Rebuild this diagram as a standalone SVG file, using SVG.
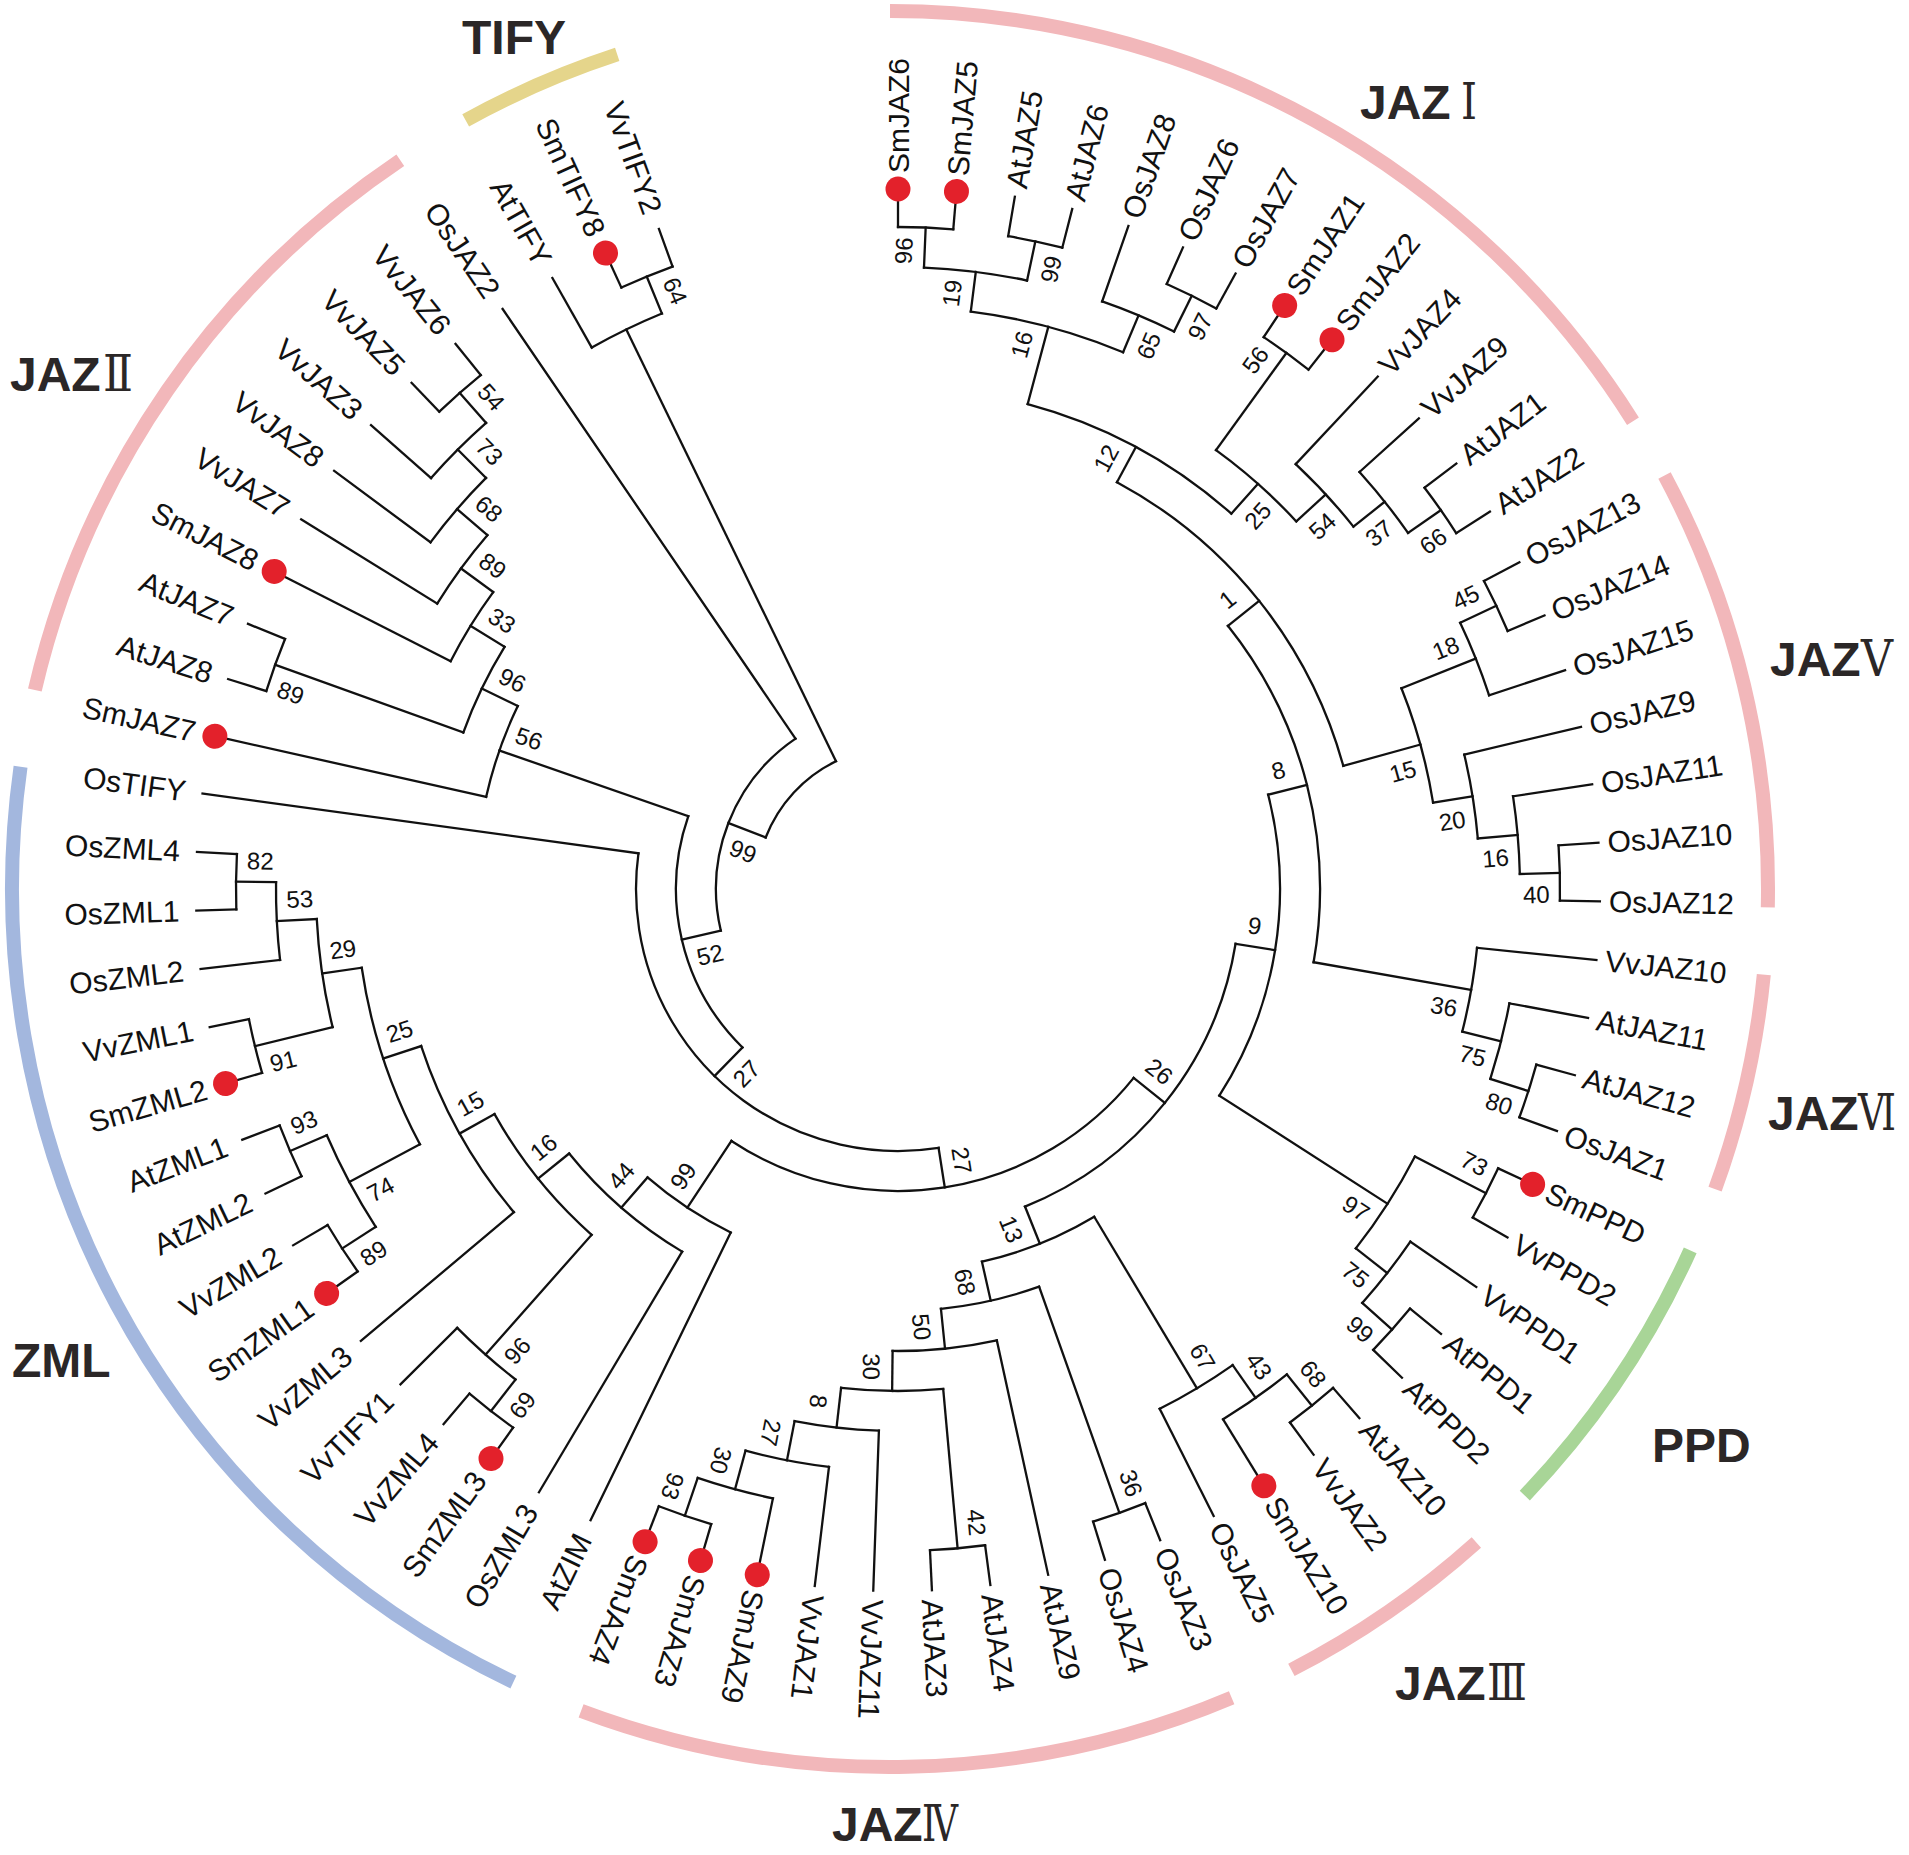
<svg xmlns="http://www.w3.org/2000/svg" width="1909" height="1855" viewBox="0 0 1909 1855">
<style>
.br{stroke:#111;stroke-width:2.3;fill:none;stroke-linecap:square}
.lf{font-family:'Liberation Sans',Arial,sans-serif;font-size:30px;fill:#111}
.le{text-anchor:end}
.bs{font-family:'Liberation Sans',Arial,sans-serif;font-size:24px;fill:#111;text-anchor:middle}
.dot{fill:#e3212b}
.ring{fill:none;stroke-width:14}
.pink{stroke:#f2b7ba}
.blue{stroke:#a3b7de}
.green{stroke:#a8d597}
.yellow{stroke:#e5d58b}
.grp{font-family:'Liberation Sans',Arial,sans-serif;font-weight:bold;font-size:48px;fill:#2b2727}
.num{font-family:'DejaVu Serif','Liberation Serif','Noto Sans CJK SC',serif;font-weight:normal;font-size:50px}
</style>
<rect width="1909" height="1855" fill="#fff"/>

<g id="clades">
<g id="clade-JAZ1"><circle class="ring pink" r="878" pathLength="360" stroke-dasharray="57.8 360" transform="translate(890 889) rotate(-90)"/><text class="grp" x="1360" y="119">JAZ<tspan class="num" x="1461" textLength="16" lengthAdjust="spacingAndGlyphs">Ⅰ</tspan></text></g>
<g id="clade-JAZ5"><circle class="ring pink" r="878" pathLength="360" stroke-dasharray="29.3 360" transform="translate(890 889) rotate(-28.1)"/><text class="grp" x="1770" y="676">JAZ<tspan class="num" x="1861" textLength="32" lengthAdjust="spacingAndGlyphs">Ⅴ</tspan></text></g>
<g id="clade-JAZ6"><circle class="ring pink" r="878" pathLength="360" stroke-dasharray="14.4 360" transform="translate(890 889) rotate(5.6)"/><text class="grp" x="1768" y="1130">JAZ<tspan class="num" x="1858" textLength="38" lengthAdjust="spacingAndGlyphs">Ⅵ</tspan></text></g>
<g id="clade-PPD"><circle class="ring green" r="878" pathLength="360" stroke-dasharray="19.4 360" transform="translate(890 889) rotate(24.3)"/><text class="grp" x="1652" y="1462">PPD</text></g>
<g id="clade-JAZ3"><circle class="ring pink" r="878" pathLength="360" stroke-dasharray="14.7 360" transform="translate(890 889) rotate(48.1)"/><text class="grp" x="1395" y="1700">JAZ<tspan class="num" x="1487" textLength="40" lengthAdjust="spacingAndGlyphs">Ⅲ</tspan></text></g>
<g id="clade-JAZ4"><circle class="ring pink" r="878" pathLength="360" stroke-dasharray="43.5 360" transform="translate(890 889) rotate(67.1)"/><text class="grp" x="832" y="1841">JAZ<tspan class="num" x="922" textLength="36" lengthAdjust="spacingAndGlyphs">Ⅳ</tspan></text></g>
<g id="clade-ZML"><circle class="ring blue" r="878" pathLength="360" stroke-dasharray="72.6 360" transform="translate(890 889) rotate(115.4)"/><text class="grp" x="12" y="1377">ZML</text></g>
<g id="clade-JAZ2"><circle class="ring pink" r="878" pathLength="360" stroke-dasharray="43 360" transform="translate(890 889) rotate(193.1)"/><text class="grp" x="10" y="391">JAZ<tspan class="num" x="103" textLength="30" lengthAdjust="spacingAndGlyphs">Ⅱ</tspan></text></g>
<g id="clade-TIFY"><circle class="ring yellow" r="878" pathLength="360" stroke-dasharray="10.8 360" transform="translate(890 889) rotate(241.1)"/><text class="grp" x="462" y="54">TIFY</text></g>
</g>

<g id="connectors" class="br" transform="translate(898 889)">
<line x1="662" x2="702" transform="rotate(-90)"/>
<line x1="662" x2="702" transform="rotate(-85.21)"/>
<line x1="662" x2="702" transform="rotate(-80.42)"/>
<line x1="662" x2="702" transform="rotate(-75.63)"/>
<line x1="622" x2="702" transform="rotate(-70.84)"/>
<line x1="662" x2="702" transform="rotate(-66.05)"/>
<line x1="662" x2="702" transform="rotate(-61.26)"/>
<line x1="662" x2="702" transform="rotate(-56.47)"/>
<line x1="662" x2="702" transform="rotate(-51.68)"/>
<line x1="582" x2="702" transform="rotate(-46.89)"/>
<line x1="622" x2="702" transform="rotate(-42.1)"/>
<line x1="662" x2="702" transform="rotate(-37.31)"/>
<line x1="662" x2="702" transform="rotate(-32.52)"/>
<line x1="662" x2="702" transform="rotate(-27.73)"/>
<line x1="662" x2="702" transform="rotate(-22.94)"/>
<line x1="622" x2="702" transform="rotate(-18.15)"/>
<line x1="582" x2="702" transform="rotate(-13.36)"/>
<line x1="622" x2="702" transform="rotate(-8.57)"/>
<line x1="662" x2="702" transform="rotate(-3.78)"/>
<line x1="662" x2="702" transform="rotate(1.01)"/>
<line x1="582" x2="702" transform="rotate(5.8)"/>
<line x1="622" x2="702" transform="rotate(10.59)"/>
<line x1="662" x2="702" transform="rotate(15.38)"/>
<line x1="662" x2="702" transform="rotate(20.17)"/>
<line x1="662" x2="702" transform="rotate(24.96)"/>
<line x1="662" x2="702" transform="rotate(29.75)"/>
<line x1="622" x2="702" transform="rotate(34.54)"/>
<line x1="662" x2="702" transform="rotate(39.33)"/>
<line x1="662" x2="702" transform="rotate(44.12)"/>
<line x1="662" x2="702" transform="rotate(48.91)"/>
<line x1="662" x2="702" transform="rotate(53.7)"/>
<line x1="622" x2="702" transform="rotate(58.49)"/>
<line x1="582" x2="702" transform="rotate(63.28)"/>
<line x1="662" x2="702" transform="rotate(68.07)"/>
<line x1="662" x2="702" transform="rotate(72.86)"/>
<line x1="462" x2="702" transform="rotate(77.65)"/>
<line x1="662" x2="702" transform="rotate(82.44)"/>
<line x1="662" x2="702" transform="rotate(87.23)"/>
<line x1="542" x2="702" transform="rotate(92.02)"/>
<line x1="582" x2="702" transform="rotate(96.81)"/>
<line x1="622" x2="702" transform="rotate(101.6)"/>
<line x1="662" x2="702" transform="rotate(106.39)"/>
<line x1="662" x2="702" transform="rotate(111.18)"/>
<line x1="382" x2="702" transform="rotate(115.97)"/>
<line x1="422" x2="702" transform="rotate(120.76)"/>
<line x1="662" x2="702" transform="rotate(125.55)"/>
<line x1="662" x2="702" transform="rotate(130.34)"/>
<line x1="622" x2="702" transform="rotate(135.13)"/>
<line x1="502" x2="702" transform="rotate(139.92)"/>
<line x1="662" x2="702" transform="rotate(144.71)"/>
<line x1="662" x2="702" transform="rotate(149.5)"/>
<line x1="662" x2="702" transform="rotate(154.29)"/>
<line x1="662" x2="702" transform="rotate(159.08)"/>
<line x1="662" x2="702" transform="rotate(163.87)"/>
<line x1="662" x2="702" transform="rotate(168.66)"/>
<line x1="622" x2="702" transform="rotate(173.45)"/>
<line x1="662" x2="702" transform="rotate(178.24)"/>
<line x1="662" x2="702" transform="rotate(183.03)"/>
<line x1="262" x2="702" transform="rotate(187.82)"/>
<line x1="422" x2="702" transform="rotate(192.61)"/>
<line x1="662" x2="702" transform="rotate(197.4)"/>
<line x1="662" x2="702" transform="rotate(202.19)"/>
<line x1="502" x2="702" transform="rotate(206.98)"/>
<line x1="542" x2="702" transform="rotate(211.77)"/>
<line x1="582" x2="702" transform="rotate(216.56)"/>
<line x1="622" x2="702" transform="rotate(221.35)"/>
<line x1="662" x2="702" transform="rotate(226.14)"/>
<line x1="662" x2="702" transform="rotate(230.93)"/>
<line x1="182" x2="702" transform="rotate(235.72)"/>
<line x1="622" x2="702" transform="rotate(240.51)"/>
<line x1="662" x2="702" transform="rotate(245.3)"/>
<line x1="662" x2="702" transform="rotate(250.09)"/>

<line x1="622" x2="662" transform="rotate(-87.605)"/>
<line x1="622" x2="662" transform="rotate(-78.025)"/>
<line x1="582" x2="622" transform="rotate(-82.815)"/>
<line x1="622" x2="662" transform="rotate(-63.655)"/>
<line x1="582" x2="622" transform="rotate(-67.2475)"/>
<line x1="502" x2="582" transform="rotate(-75.03)"/>
<line x1="542" x2="662" transform="rotate(-54.075)"/>
<line x1="622" x2="662" transform="rotate(-34.915)"/>
<line x1="582" x2="622" transform="rotate(-38.5075)"/>
<line x1="542" x2="582" transform="rotate(-42.7)"/>
<line x1="502" x2="542" transform="rotate(-48.39)"/>
<line x1="462" x2="502" transform="rotate(-61.71)"/>
<line x1="622" x2="662" transform="rotate(-25.335)"/>
<line x1="542" x2="622" transform="rotate(-21.74)"/>
<line x1="622" x2="662" transform="rotate(-1.385)"/>
<line x1="582" x2="622" transform="rotate(-4.98)"/>
<line x1="542" x2="582" transform="rotate(-9.17)"/>
<line x1="462" x2="542" transform="rotate(-15.455)"/>
<line x1="422" x2="462" transform="rotate(-38.58)"/>
<line x1="622" x2="662" transform="rotate(17.775)"/>
<line x1="582" x2="622" transform="rotate(14.18)"/>
<line x1="422" x2="582" transform="rotate(9.99)"/>
<line x1="382" x2="422" transform="rotate(-14.295)"/>
<line x1="582" x2="662" transform="rotate(27.355)"/>
<line x1="622" x2="662" transform="rotate(41.725)"/>
<line x1="582" x2="622" transform="rotate(38.13)"/>
<line x1="382" x2="582" transform="rotate(32.74)"/>
<line x1="342" x2="382" transform="rotate(9.22)"/>
<line x1="622" x2="662" transform="rotate(51.305)"/>
<line x1="582" x2="622" transform="rotate(54.8975)"/>
<line x1="382" x2="582" transform="rotate(59.09)"/>
<line x1="422" x2="662" transform="rotate(70.465)"/>
<line x1="502" x2="662" transform="rotate(84.835)"/>
<line x1="622" x2="662" transform="rotate(108.785)"/>
<line x1="582" x2="622" transform="rotate(105.19)"/>
<line x1="542" x2="582" transform="rotate(101)"/>
<line x1="502" x2="542" transform="rotate(96.51)"/>
<line x1="462" x2="502" transform="rotate(90.67)"/>
<line x1="422" x2="462" transform="rotate(84.16)"/>
<line x1="382" x2="422" transform="rotate(77.31)"/>
<line x1="342" x2="382" transform="rotate(68.2)"/>
<line x1="302" x2="342" transform="rotate(38.71)"/>
<line x1="622" x2="662" transform="rotate(127.945)"/>
<line x1="462" x2="622" transform="rotate(131.54)"/>
<line x1="622" x2="662" transform="rotate(147.105)"/>
<line x1="622" x2="662" transform="rotate(156.685)"/>
<line x1="542" x2="622" transform="rotate(151.895)"/>
<line x1="582" x2="662" transform="rotate(166.265)"/>
<line x1="622" x2="662" transform="rotate(180.635)"/>
<line x1="582" x2="622" transform="rotate(177.04)"/>
<line x1="542" x2="582" transform="rotate(171.65)"/>
<line x1="502" x2="542" transform="rotate(161.77)"/>
<line x1="462" x2="502" transform="rotate(150.845)"/>
<line x1="422" x2="462" transform="rotate(141.19)"/>
<line x1="382" x2="422" transform="rotate(130.975)"/>
<line x1="302" x2="382" transform="rotate(123.47)"/>
<line x1="262" x2="302" transform="rotate(81.09)"/>
<line x1="222" x2="262" transform="rotate(134.455)"/>
<line x1="622" x2="662" transform="rotate(228.535)"/>
<line x1="582" x2="622" transform="rotate(224.9425)"/>
<line x1="542" x2="582" transform="rotate(220.75)"/>
<line x1="502" x2="542" transform="rotate(216.26)"/>
<line x1="462" x2="502" transform="rotate(211.62)"/>
<line x1="462" x2="662" transform="rotate(199.795)"/>
<line x1="422" x2="462" transform="rotate(205.71)"/>
<line x1="222" x2="422" transform="rotate(199.16)"/>
<line x1="182" x2="222" transform="rotate(166.81)"/>
<line x1="142" x2="182" transform="rotate(201.265)"/>
<line x1="622" x2="662" transform="rotate(247.695)"/>
<line x1="142" x2="622" transform="rotate(244.1)"/>

<circle r="662" pathLength="360" stroke-dasharray="4.79 360" transform="rotate(-90)"/>
<circle r="662" pathLength="360" stroke-dasharray="4.79 360" transform="rotate(-80.42)"/>
<circle r="622" pathLength="360" stroke-dasharray="9.58 360" transform="rotate(-87.605)"/>
<circle r="662" pathLength="360" stroke-dasharray="4.79 360" transform="rotate(-66.05)"/>
<circle r="622" pathLength="360" stroke-dasharray="7.185 360" transform="rotate(-70.84)"/>
<circle r="582" pathLength="360" stroke-dasharray="15.5675 360" transform="rotate(-82.815)"/>
<circle r="662" pathLength="360" stroke-dasharray="4.79 360" transform="rotate(-56.47)"/>
<circle r="662" pathLength="360" stroke-dasharray="4.79 360" transform="rotate(-37.31)"/>
<circle r="622" pathLength="360" stroke-dasharray="7.185 360" transform="rotate(-42.1)"/>
<circle r="582" pathLength="360" stroke-dasharray="8.3825 360" transform="rotate(-46.89)"/>
<circle r="542" pathLength="360" stroke-dasharray="11.375 360" transform="rotate(-54.075)"/>
<circle r="502" pathLength="360" stroke-dasharray="26.64 360" transform="rotate(-75.03)"/>
<circle r="662" pathLength="360" stroke-dasharray="4.79 360" transform="rotate(-27.73)"/>
<circle r="622" pathLength="360" stroke-dasharray="7.185 360" transform="rotate(-25.335)"/>
<circle r="662" pathLength="360" stroke-dasharray="4.79 360" transform="rotate(-3.78)"/>
<circle r="622" pathLength="360" stroke-dasharray="7.185 360" transform="rotate(-8.57)"/>
<circle r="582" pathLength="360" stroke-dasharray="8.38 360" transform="rotate(-13.36)"/>
<circle r="542" pathLength="360" stroke-dasharray="12.57 360" transform="rotate(-21.74)"/>
<circle r="462" pathLength="360" stroke-dasharray="46.255 360" transform="rotate(-61.71)"/>
<circle r="662" pathLength="360" stroke-dasharray="4.79 360" transform="rotate(15.38)"/>
<circle r="622" pathLength="360" stroke-dasharray="7.185 360" transform="rotate(10.59)"/>
<circle r="582" pathLength="360" stroke-dasharray="8.38 360" transform="rotate(5.8)"/>
<circle r="422" pathLength="360" stroke-dasharray="48.57 360" transform="rotate(-38.58)"/>
<circle r="662" pathLength="360" stroke-dasharray="4.79 360" transform="rotate(24.96)"/>
<circle r="662" pathLength="360" stroke-dasharray="4.79 360" transform="rotate(39.33)"/>
<circle r="622" pathLength="360" stroke-dasharray="7.185 360" transform="rotate(34.54)"/>
<circle r="582" pathLength="360" stroke-dasharray="10.775 360" transform="rotate(27.355)"/>
<circle r="382" pathLength="360" stroke-dasharray="47.035 360" transform="rotate(-14.295)"/>
<circle r="662" pathLength="360" stroke-dasharray="4.79 360" transform="rotate(48.91)"/>
<circle r="622" pathLength="360" stroke-dasharray="7.185 360" transform="rotate(51.305)"/>
<circle r="582" pathLength="360" stroke-dasharray="8.3825 360" transform="rotate(54.8975)"/>
<circle r="662" pathLength="360" stroke-dasharray="4.79 360" transform="rotate(68.07)"/>
<circle r="662" pathLength="360" stroke-dasharray="4.79 360" transform="rotate(82.44)"/>
<circle r="662" pathLength="360" stroke-dasharray="4.79 360" transform="rotate(106.39)"/>
<circle r="622" pathLength="360" stroke-dasharray="7.185 360" transform="rotate(101.6)"/>
<circle r="582" pathLength="360" stroke-dasharray="8.38 360" transform="rotate(96.81)"/>
<circle r="542" pathLength="360" stroke-dasharray="8.98 360" transform="rotate(92.02)"/>
<circle r="502" pathLength="360" stroke-dasharray="11.675 360" transform="rotate(84.835)"/>
<circle r="462" pathLength="360" stroke-dasharray="13.02 360" transform="rotate(77.65)"/>
<circle r="422" pathLength="360" stroke-dasharray="13.695 360" transform="rotate(70.465)"/>
<circle r="382" pathLength="360" stroke-dasharray="18.22 360" transform="rotate(59.09)"/>
<circle r="342" pathLength="360" stroke-dasharray="58.98 360" transform="rotate(9.22)"/>
<circle r="662" pathLength="360" stroke-dasharray="4.79 360" transform="rotate(125.55)"/>
<circle r="622" pathLength="360" stroke-dasharray="7.185 360" transform="rotate(127.945)"/>
<circle r="662" pathLength="360" stroke-dasharray="4.79 360" transform="rotate(144.71)"/>
<circle r="662" pathLength="360" stroke-dasharray="4.79 360" transform="rotate(154.29)"/>
<circle r="622" pathLength="360" stroke-dasharray="9.58 360" transform="rotate(147.105)"/>
<circle r="662" pathLength="360" stroke-dasharray="4.79 360" transform="rotate(163.87)"/>
<circle r="662" pathLength="360" stroke-dasharray="4.79 360" transform="rotate(178.24)"/>
<circle r="622" pathLength="360" stroke-dasharray="7.185 360" transform="rotate(173.45)"/>
<circle r="582" pathLength="360" stroke-dasharray="10.775 360" transform="rotate(166.265)"/>
<circle r="542" pathLength="360" stroke-dasharray="19.755 360" transform="rotate(151.895)"/>
<circle r="502" pathLength="360" stroke-dasharray="21.85 360" transform="rotate(139.92)"/>
<circle r="462" pathLength="360" stroke-dasharray="19.305 360" transform="rotate(131.54)"/>
<circle r="422" pathLength="360" stroke-dasharray="20.43 360" transform="rotate(120.76)"/>
<circle r="382" pathLength="360" stroke-dasharray="15.005 360" transform="rotate(115.97)"/>
<circle r="302" pathLength="360" stroke-dasharray="84.76 360" transform="rotate(38.71)"/>
<circle r="262" pathLength="360" stroke-dasharray="106.73 360" transform="rotate(81.09)"/>
<circle r="662" pathLength="360" stroke-dasharray="4.79 360" transform="rotate(226.14)"/>
<circle r="622" pathLength="360" stroke-dasharray="7.185 360" transform="rotate(221.35)"/>
<circle r="582" pathLength="360" stroke-dasharray="8.3825 360" transform="rotate(216.56)"/>
<circle r="542" pathLength="360" stroke-dasharray="8.98 360" transform="rotate(211.77)"/>
<circle r="502" pathLength="360" stroke-dasharray="9.28 360" transform="rotate(206.98)"/>
<circle r="662" pathLength="360" stroke-dasharray="4.79 360" transform="rotate(197.4)"/>
<circle r="462" pathLength="360" stroke-dasharray="11.825 360" transform="rotate(199.795)"/>
<circle r="422" pathLength="360" stroke-dasharray="13.1 360" transform="rotate(192.61)"/>
<circle r="222" pathLength="360" stroke-dasharray="64.705 360" transform="rotate(134.455)"/>
<circle r="182" pathLength="360" stroke-dasharray="68.91 360" transform="rotate(166.81)"/>
<circle r="662" pathLength="360" stroke-dasharray="4.79 360" transform="rotate(245.3)"/>
<circle r="622" pathLength="360" stroke-dasharray="7.185 360" transform="rotate(240.51)"/>
<circle r="142" pathLength="360" stroke-dasharray="42.835 360" transform="rotate(201.265)"/>
</g>

<g id="leaves" transform="translate(898 889)">
<g id="leaf-SmJAZ6"><circle class="dot" cx="700" r="12.5" transform="rotate(-90)"/><text class="lf" transform="rotate(-90)" x="716" y="10.5">SmJAZ6</text></g>
<g id="leaf-SmJAZ5"><circle class="dot" cx="700" r="12.5" transform="rotate(-85.21)"/><text class="lf" transform="rotate(-85.21)" x="716" y="10.5">SmJAZ5</text></g>
<g id="leaf-AtJAZ5"><text class="lf" transform="rotate(-80.42)" x="711" y="10.5">AtJAZ5</text></g>
<g id="leaf-AtJAZ6"><text class="lf" transform="rotate(-75.63)" x="711" y="10.5">AtJAZ6</text></g>
<g id="leaf-OsJAZ8"><text class="lf" transform="rotate(-70.84)" x="711" y="10.5">OsJAZ8</text></g>
<g id="leaf-OsJAZ6"><text class="lf" transform="rotate(-66.05)" x="711" y="10.5">OsJAZ6</text></g>
<g id="leaf-OsJAZ7"><text class="lf" transform="rotate(-61.26)" x="711" y="10.5">OsJAZ7</text></g>
<g id="leaf-SmJAZ1"><circle class="dot" cx="700" r="12.5" transform="rotate(-56.47)"/><text class="lf" transform="rotate(-56.47)" x="716" y="10.5">SmJAZ1</text></g>
<g id="leaf-SmJAZ2"><circle class="dot" cx="700" r="12.5" transform="rotate(-51.68)"/><text class="lf" transform="rotate(-51.68)" x="716" y="10.5">SmJAZ2</text></g>
<g id="leaf-VvJAZ4"><text class="lf" transform="rotate(-46.89)" x="711" y="10.5">VvJAZ4</text></g>
<g id="leaf-VvJAZ9"><text class="lf" transform="rotate(-42.1)" x="711" y="10.5">VvJAZ9</text></g>
<g id="leaf-AtJAZ1"><text class="lf" transform="rotate(-37.31)" x="711" y="10.5">AtJAZ1</text></g>
<g id="leaf-AtJAZ2"><text class="lf" transform="rotate(-32.52)" x="711" y="10.5">AtJAZ2</text></g>
<g id="leaf-OsJAZ13"><text class="lf" transform="rotate(-27.73)" x="711" y="10.5">OsJAZ13</text></g>
<g id="leaf-OsJAZ14"><text class="lf" transform="rotate(-22.94)" x="711" y="10.5">OsJAZ14</text></g>
<g id="leaf-OsJAZ15"><text class="lf" transform="rotate(-18.15)" x="711" y="10.5">OsJAZ15</text></g>
<g id="leaf-OsJAZ9"><text class="lf" transform="rotate(-13.36)" x="711" y="10.5">OsJAZ9</text></g>
<g id="leaf-OsJAZ11"><text class="lf" transform="rotate(-8.57)" x="711" y="10.5">OsJAZ11</text></g>
<g id="leaf-OsJAZ10"><text class="lf" transform="rotate(-3.78)" x="711" y="10.5">OsJAZ10</text></g>
<g id="leaf-OsJAZ12"><text class="lf" transform="rotate(1.01)" x="711" y="10.5">OsJAZ12</text></g>
<g id="leaf-VvJAZ10"><text class="lf" transform="rotate(5.8)" x="711" y="10.5">VvJAZ10</text></g>
<g id="leaf-AtJAZ11"><text class="lf" transform="rotate(10.59)" x="711" y="10.5">AtJAZ11</text></g>
<g id="leaf-AtJAZ12"><text class="lf" transform="rotate(15.38)" x="711" y="10.5">AtJAZ12</text></g>
<g id="leaf-OsJAZ1"><text class="lf" transform="rotate(20.17)" x="711" y="10.5">OsJAZ1</text></g>
<g id="leaf-SmPPD"><circle class="dot" cx="700" r="12.5" transform="rotate(24.96)"/><text class="lf" transform="rotate(24.96)" x="716" y="10.5">SmPPD</text></g>
<g id="leaf-VvPPD2"><text class="lf" transform="rotate(29.75)" x="711" y="10.5">VvPPD2</text></g>
<g id="leaf-VvPPD1"><text class="lf" transform="rotate(34.54)" x="711" y="10.5">VvPPD1</text></g>
<g id="leaf-AtPPD1"><text class="lf" transform="rotate(39.33)" x="711" y="10.5">AtPPD1</text></g>
<g id="leaf-AtPPD2"><text class="lf" transform="rotate(44.12)" x="711" y="10.5">AtPPD2</text></g>
<g id="leaf-AtJAZ10"><text class="lf" transform="rotate(48.91)" x="711" y="10.5">AtJAZ10</text></g>
<g id="leaf-VvJAZ2"><text class="lf" transform="rotate(53.7)" x="711" y="10.5">VvJAZ2</text></g>
<g id="leaf-SmJAZ10"><circle class="dot" cx="700" r="12.5" transform="rotate(58.49)"/><text class="lf" transform="rotate(58.49)" x="716" y="10.5">SmJAZ10</text></g>
<g id="leaf-OsJAZ5"><text class="lf" transform="rotate(63.28)" x="711" y="10.5">OsJAZ5</text></g>
<g id="leaf-OsJAZ3"><text class="lf" transform="rotate(68.07)" x="711" y="10.5">OsJAZ3</text></g>
<g id="leaf-OsJAZ4"><text class="lf" transform="rotate(72.86)" x="711" y="10.5">OsJAZ4</text></g>
<g id="leaf-AtJAZ9"><text class="lf" transform="rotate(77.65)" x="711" y="10.5">AtJAZ9</text></g>
<g id="leaf-AtJAZ4"><text class="lf" transform="rotate(82.44)" x="711" y="10.5">AtJAZ4</text></g>
<g id="leaf-AtJAZ3"><text class="lf" transform="rotate(87.23)" x="711" y="10.5">AtJAZ3</text></g>
<g id="leaf-VvJAZ11"><text class="lf" transform="rotate(92.02)" x="711" y="10.5">VvJAZ11</text></g>
<g id="leaf-VvJAZ1"><text class="lf" transform="rotate(96.81)" x="711" y="10.5">VvJAZ1</text></g>
<g id="leaf-SmJAZ9"><circle class="dot" cx="700" r="12.5" transform="rotate(101.6)"/><text class="lf" transform="rotate(101.6)" x="716" y="10.5">SmJAZ9</text></g>
<g id="leaf-SmJAZ3"><circle class="dot" cx="700" r="12.5" transform="rotate(106.39)"/><text class="lf" transform="rotate(106.39)" x="716" y="10.5">SmJAZ3</text></g>
<g id="leaf-SmJAZ4"><circle class="dot" cx="700" r="12.5" transform="rotate(111.18)"/><text class="lf" transform="rotate(111.18)" x="716" y="10.5">SmJAZ4</text></g>
<g id="leaf-AtZIM"><text class="lf le" transform="rotate(-64.03)" x="-719" y="10.5">AtZIM</text></g>
<g id="leaf-OsZML3"><text class="lf le" transform="rotate(-59.24)" x="-719" y="10.5">OsZML3</text></g>
<g id="leaf-SmZML3"><circle class="dot" cx="-700" r="12.5" transform="rotate(-54.45)"/><text class="lf le" transform="rotate(-54.45)" x="-720" y="10.5">SmZML3</text></g>
<g id="leaf-VvZML4"><text class="lf le" transform="rotate(-49.66)" x="-719" y="10.5">VvZML4</text></g>
<g id="leaf-VvTIFY1"><text class="lf le" transform="rotate(-44.87)" x="-719" y="10.5">VvTIFY1</text></g>
<g id="leaf-VvZML3"><text class="lf le" transform="rotate(-40.08)" x="-719" y="10.5">VvZML3</text></g>
<g id="leaf-SmZML1"><circle class="dot" cx="-700" r="12.5" transform="rotate(-35.29)"/><text class="lf le" transform="rotate(-35.29)" x="-720" y="10.5">SmZML1</text></g>
<g id="leaf-VvZML2"><text class="lf le" transform="rotate(-30.5)" x="-719" y="10.5">VvZML2</text></g>
<g id="leaf-AtZML2"><text class="lf le" transform="rotate(-25.71)" x="-719" y="10.5">AtZML2</text></g>
<g id="leaf-AtZML1"><text class="lf le" transform="rotate(-20.92)" x="-719" y="10.5">AtZML1</text></g>
<g id="leaf-SmZML2"><circle class="dot" cx="-700" r="12.5" transform="rotate(-16.13)"/><text class="lf le" transform="rotate(-16.13)" x="-720" y="10.5">SmZML2</text></g>
<g id="leaf-VvZML1"><text class="lf le" transform="rotate(-11.34)" x="-719" y="10.5">VvZML1</text></g>
<g id="leaf-OsZML2"><text class="lf le" transform="rotate(-6.55)" x="-719" y="10.5">OsZML2</text></g>
<g id="leaf-OsZML1"><text class="lf le" transform="rotate(-1.76)" x="-719" y="10.5">OsZML1</text></g>
<g id="leaf-OsZML4"><text class="lf le" transform="rotate(3.03)" x="-719" y="10.5">OsZML4</text></g>
<g id="leaf-OsTIFY"><text class="lf le" transform="rotate(7.82)" x="-719" y="10.5">OsTIFY</text></g>
<g id="leaf-SmJAZ7"><circle class="dot" cx="-700" r="12.5" transform="rotate(12.61)"/><text class="lf le" transform="rotate(12.61)" x="-720" y="10.5">SmJAZ7</text></g>
<g id="leaf-AtJAZ8"><text class="lf le" transform="rotate(17.4)" x="-719" y="10.5">AtJAZ8</text></g>
<g id="leaf-AtJAZ7"><text class="lf le" transform="rotate(22.19)" x="-719" y="10.5">AtJAZ7</text></g>
<g id="leaf-SmJAZ8"><circle class="dot" cx="-700" r="12.5" transform="rotate(26.98)"/><text class="lf le" transform="rotate(26.98)" x="-720" y="10.5">SmJAZ8</text></g>
<g id="leaf-VvJAZ7"><text class="lf le" transform="rotate(31.77)" x="-719" y="10.5">VvJAZ7</text></g>
<g id="leaf-VvJAZ8"><text class="lf le" transform="rotate(36.56)" x="-719" y="10.5">VvJAZ8</text></g>
<g id="leaf-VvJAZ3"><text class="lf le" transform="rotate(41.35)" x="-719" y="10.5">VvJAZ3</text></g>
<g id="leaf-VvJAZ5"><text class="lf le" transform="rotate(46.14)" x="-719" y="10.5">VvJAZ5</text></g>
<g id="leaf-VvJAZ6"><text class="lf le" transform="rotate(50.93)" x="-719" y="10.5">VvJAZ6</text></g>
<g id="leaf-OsJAZ2"><text class="lf le" transform="rotate(55.72)" x="-719" y="10.5">OsJAZ2</text></g>
<g id="leaf-AtTIFY"><text class="lf le" transform="rotate(60.51)" x="-719" y="10.5">AtTIFY</text></g>
<g id="leaf-SmTIFY8"><circle class="dot" cx="-700" r="12.5" transform="rotate(65.3)"/><text class="lf le" transform="rotate(65.3)" x="-720" y="10.5">SmTIFY8</text></g>
<g id="leaf-VvTIFY2"><text class="lf le" transform="rotate(70.09)" x="-719" y="10.5">VvTIFY2</text></g>
</g>

<g id="bootstraps" transform="translate(898 889)">
<g id="node-96a"><text class="bs" transform="rotate(-87.605)" x="638" y="-12.5">96</text></g>
<g id="node-99a"><text class="bs" transform="rotate(-78.025)" x="638" y="29.5">99</text></g>
<g id="node-19"><text class="bs" transform="rotate(-82.815)" x="598" y="-12.5">19</text></g>
<g id="node-97a"><text class="bs" transform="rotate(-63.655)" x="638" y="29.5">97</text></g>
<g id="node-65"><text class="bs" transform="rotate(-67.2475)" x="598" y="29.5">65</text></g>
<g id="node-16a"><text class="bs" transform="rotate(-75.03)" x="558" y="-12.5">16</text></g>
<g id="node-56a"><text class="bs" transform="rotate(-54.075)" x="638" y="-12.5">56</text></g>
<g id="node-66"><text class="bs" transform="rotate(-34.915)" x="638" y="29.5">66</text></g>
<g id="node-37"><text class="bs" transform="rotate(-38.5075)" x="598" y="29.5">37</text></g>
<g id="node-54a"><text class="bs" transform="rotate(-42.7)" x="558" y="29.5">54</text></g>
<g id="node-25a"><text class="bs" transform="rotate(-48.39)" x="518" y="29.5">25</text></g>
<g id="node-12"><text class="bs" transform="rotate(-61.71)" x="478" y="-12.5">12</text></g>
<g id="node-45"><text class="bs" transform="rotate(-25.335)" x="638" y="-12.5">45</text></g>
<g id="node-18"><text class="bs" transform="rotate(-21.74)" x="598" y="-12.5">18</text></g>
<g id="node-40"><text class="bs" transform="rotate(-1.385)" x="638" y="29.5">40</text></g>
<g id="node-16b"><text class="bs" transform="rotate(-4.98)" x="598" y="29.5">16</text></g>
<g id="node-20"><text class="bs" transform="rotate(-9.17)" x="558" y="29.5">20</text></g>
<g id="node-15a"><text class="bs" transform="rotate(-15.455)" x="518" y="29.5">15</text></g>
<g id="node-1"><text class="bs" transform="rotate(-38.58)" x="438" y="-12.5">1</text></g>
<g id="node-80"><text class="bs" transform="rotate(17.775)" x="638" y="29.5">80</text></g>
<g id="node-75a"><text class="bs" transform="rotate(14.18)" x="598" y="29.5">75</text></g>
<g id="node-36a"><text class="bs" transform="rotate(9.99)" x="558" y="29.5">36</text></g>
<g id="node-8a"><text class="bs" transform="rotate(-14.295)" x="398" y="-12.5">8</text></g>
<g id="node-73a"><text class="bs" transform="rotate(27.355)" x="638" y="-12.5">73</text></g>
<g id="node-99b"><text class="bs" transform="rotate(41.725)" x="638" y="29.5">99</text></g>
<g id="node-75b"><text class="bs" transform="rotate(38.13)" x="598" y="29.5">75</text></g>
<g id="node-97b"><text class="bs" transform="rotate(32.74)" x="558" y="29.5">97</text></g>
<g id="node-9"><text class="bs" transform="rotate(9.22)" x="358" y="-12.5">9</text></g>
<g id="node-68a"><text class="bs" transform="rotate(51.305)" x="638" y="-12.5">68</text></g>
<g id="node-43"><text class="bs" transform="rotate(54.8975)" x="598" y="-12.5">43</text></g>
<g id="node-67"><text class="bs" transform="rotate(59.09)" x="558" y="-12.5">67</text></g>
<g id="node-36b"><text class="bs" transform="rotate(70.465)" x="638" y="-12.5">36</text></g>
<g id="node-42"><text class="bs" transform="rotate(84.835)" x="638" y="-12.5">42</text></g>
<g id="node-93a"><text class="bs" transform="rotate(108.785)" x="638" y="29.5">93</text></g>
<g id="node-30a"><text class="bs" transform="rotate(105.19)" x="598" y="29.5">30</text></g>
<g id="node-27c"><text class="bs" transform="rotate(101)" x="558" y="29.5">27</text></g>
<g id="node-8b"><text class="bs" transform="rotate(96.51)" x="518" y="29.5">8</text></g>
<g id="node-30b"><text class="bs" transform="rotate(90.67)" x="478" y="29.5">30</text></g>
<g id="node-50"><text class="bs" transform="rotate(84.16)" x="438" y="29.5">50</text></g>
<g id="node-68b"><text class="bs" transform="rotate(77.31)" x="398" y="29.5">68</text></g>
<g id="node-13"><text class="bs" transform="rotate(68.2)" x="358" y="29.5">13</text></g>
<g id="node-26"><text class="bs" transform="rotate(38.71)" x="318" y="-12.5">26</text></g>
<g id="node-27b"><text class="bs" transform="rotate(81.09)" x="278" y="-12.5">27</text></g>
<g id="node-69"><text class="bs" transform="rotate(-52.055)" x="-638" y="29.5">69</text></g>
<g id="node-96z"><text class="bs" transform="rotate(-48.46)" x="-598" y="29.5">96</text></g>
<g id="node-89z"><text class="bs" transform="rotate(-32.895)" x="-638" y="29.5">89</text></g>
<g id="node-93z"><text class="bs" transform="rotate(-23.315)" x="-638" y="-12.5">93</text></g>
<g id="node-74"><text class="bs" transform="rotate(-28.105)" x="-598" y="29.5">74</text></g>
<g id="node-91"><text class="bs" transform="rotate(-13.735)" x="-638" y="29.5">91</text></g>
<g id="node-82"><text class="bs" transform="rotate(0.635)" x="-638" y="-12.5">82</text></g>
<g id="node-53"><text class="bs" transform="rotate(-2.96)" x="-598" y="-12.5">53</text></g>
<g id="node-29"><text class="bs" transform="rotate(-8.35)" x="-558" y="-12.5">29</text></g>
<g id="node-25z"><text class="bs" transform="rotate(-18.23)" x="-518" y="-12.5">25</text></g>
<g id="node-15z"><text class="bs" transform="rotate(-29.155)" x="-478" y="-12.5">15</text></g>
<g id="node-16z"><text class="bs" transform="rotate(-38.81)" x="-438" y="-12.5">16</text></g>
<g id="node-44"><text class="bs" transform="rotate(-49.025)" x="-398" y="-12.5">44</text></g>
<g id="node-99z"><text class="bs" transform="rotate(-56.53)" x="-358" y="-12.5">99</text></g>
<g id="node-27a"><text class="bs" transform="rotate(-45.545)" x="-238" y="29.5">27</text></g>
<g id="node-54j"><text class="bs" transform="rotate(48.535)" x="-638" y="-12.5">54</text></g>
<g id="node-73j"><text class="bs" transform="rotate(44.9425)" x="-598" y="-12.5">73</text></g>
<g id="node-68j"><text class="bs" transform="rotate(40.75)" x="-558" y="-12.5">68</text></g>
<g id="node-89j"><text class="bs" transform="rotate(36.26)" x="-518" y="-12.5">89</text></g>
<g id="node-33"><text class="bs" transform="rotate(31.62)" x="-478" y="-12.5">33</text></g>
<g id="node-89k"><text class="bs" transform="rotate(19.795)" x="-638" y="29.5">89</text></g>
<g id="node-96j"><text class="bs" transform="rotate(25.71)" x="-438" y="-12.5">96</text></g>
<g id="node-56j"><text class="bs" transform="rotate(19.16)" x="-398" y="-12.5">56</text></g>
<g id="node-52"><text class="bs" transform="rotate(-13.19)" x="-198" y="29.5">52</text></g>
<g id="node-X"><text class="bs" transform="rotate(21.265)" x="-158" y="29.5">99</text></g>
<g id="node-64"><text class="bs" transform="rotate(67.695)" x="-638" y="-12.5">64</text></g>
</g>
</svg>
